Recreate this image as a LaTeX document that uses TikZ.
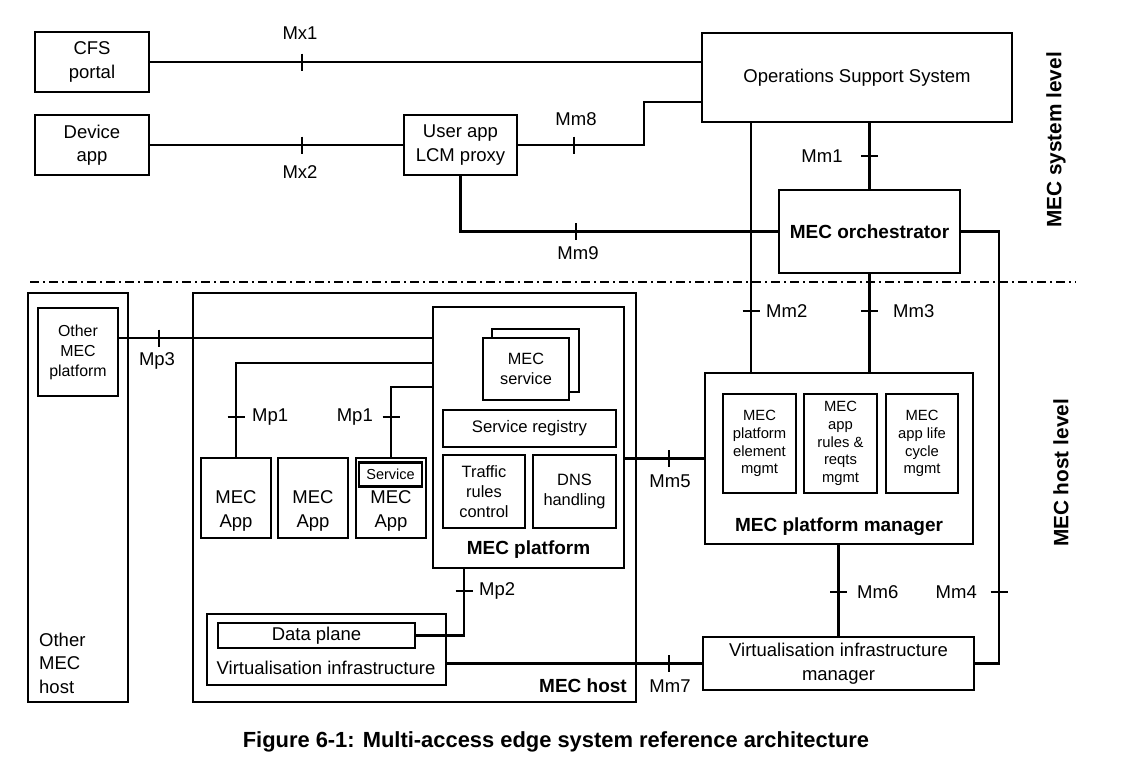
\documentclass[tikz,border=0pt]{standalone}
\usepackage{fontspec}
\setmainfont{Liberation Sans}
\newcommand\fsz[2]{\fontsize{#1}{#2}\selectfont}
\begin{document}
\begin{tikzpicture}[x=1pt,y=-1pt,
  box/.style={draw, line width=2.2pt, inner sep=0pt, align=center, font=\fsz{18.5}{23.5}},
  wire/.style={line width=2.2pt},
  tick/.style={line width=2.2pt},
  lab/.style={inner sep=0pt, align=center, font=\fsz{18.5}{23.5}},
  smalltxt/.style={font=\fsz{14.8}{17.8}},
  midtxt/.style={font=\fsz{16.4}{19.8}},
  head/.style={inner sep=0pt, font=\bfseries\fsz{19}{23}},
  side/.style={inner sep=0pt, font=\bfseries\fsz{20.8}{25}, rotate=90},
  levelline/.style={line width=1.6pt, dash pattern=on 9pt off 4pt on 2pt off 4pt},
]
\useasboundingbox (0,0) rectangle (1123,772);

% ---------------- system level ----------------
\node[box, minimum width=114, minimum height=60] (cfs) at (92,62) {CFS\\portal};
\node[box, minimum width=114, minimum height=60] (dev) at (92,145) {Device\\app};
\node[box, minimum width=113, minimum height=60] (proxy) at (460.5,145) {User app\\LCM proxy};
\node[box, minimum width=310, minimum height=89] (oss) at (857,77.5) {Operations Support System};
\node[box, minimum width=181, minimum height=83, font=\bfseries\fsz{19}{23}] (orch) at (869.5,231.5) {MEC orchestrator};

\node[side] (syslevel) at (1056,140) {MEC system level};

% level separator
\coordinate (sepl) at (30,282);
\coordinate (sepr) at (1076,282);
\draw[levelline] (sepl) -- (sepr);

% ---------------- host level ----------------
\node[box, minimum width=100, minimum height=409] (omh) at (78,497.5) {};
\node[lab, align=left, anchor=west] (omht) at (39,663) {Other\\MEC\\host};
\node[box, minimum width=80, minimum height=88, font=\fsz{15.9}{20}] (omp) at (78,352) {Other\\MEC\\platform};

\node[box, minimum width=443, minimum height=409] (host) at (414.5,497.5) {};
\node[head, anchor=east] (hostt) at (627,686) {MEC host};

\node[box, minimum width=191, minimum height=261] (plat) at (528.5,437.5) {};
\node[head] (platt) at (528.5,550) {MEC platform};
\node[box, minimum width=87, minimum height=63] (svcback) at (535.5,360.5) {};
\node[box, minimum width=86, minimum height=62, fill=white, font=\fsz{16.3}{20}] (svc) at (526,369) {MEC\\service};
\node[box, minimum width=173, minimum height=37, font=\fsz{16.7}{20}] (reg) at (529.5,428.5) {Service registry};
\node[box, minimum width=82, minimum height=73, midtxt] (traffic) at (484,491.5) {Traffic\\rules\\control};
\node[box, minimum width=83, minimum height=73, midtxt] (dns) at (574.5,491.5) {DNS\\handling};

\node[box, minimum width=70, minimum height=80] (app1) at (236,498) {};
\node[box, minimum width=70, minimum height=80] (app2) at (313,498) {};
\node[box, minimum width=70, minimum height=80] (app3) at (391,498) {};
\node[lab, font=\fsz{18.5}{24}] (app1t) at (236,511) {MEC\\App};
\node[lab, font=\fsz{18.5}{24}] (app2t) at (313,511) {MEC\\App};
\node[lab, font=\fsz{18.5}{24}] (app3t) at (391,511) {MEC\\App};
\node[box, minimum width=63, minimum height=24, font=\fsz{14.5}{17}] (svcin) at (390.5,474.5) {Service};

\node[box, minimum width=239, minimum height=71] (vi) at (326.5,649.5) {};
\node[box, minimum width=197, minimum height=25] (dp) at (316.5,635.5) {Data plane};
\node[lab] (vit) at (326,668) {Virtualisation infrastructure};

\node[box, minimum width=268, minimum height=171] (pm) at (839,458.5) {};
\node[head] (pmt) at (839,527) {MEC platform manager};
\node[box, minimum width=73, minimum height=99, smalltxt] (pm1) at (759.5,443.5) {MEC\\platform\\element\\mgmt};
\node[box, minimum width=73, minimum height=99, smalltxt] (pm2) at (840.5,443.5) {MEC\\app\\rules \&\\reqts\\mgmt};
\node[box, minimum width=72, minimum height=99, smalltxt] (pm3) at (922,443.5) {MEC\\app life\\cycle\\mgmt};

\node[box, minimum width=271, minimum height=53] (vim) at (838.5,663.5) {Virtualisation infrastructure\\manager};

\node[side] (hostlevel) at (1061,473) {MEC host level};

% ---------------- reference points ----------------
\coordinate (m8bend) at (644,102);
\coordinate (m2x) at (751,300);
\coordinate (m4x) at (999,400);
\coordinate (mp3y) at (0,338);
\coordinate (mp1ay) at (0,363);
\coordinate (mp1by) at (0,387);
\coordinate (mp2x) at (464,600);

% ---------------- connectors ----------------
\draw[wire] (cfs.east) -- (cfs.east -| oss.west);
\draw[wire] (dev.east) -- (proxy.west);
\draw[wire] (proxy.east) -| (m8bend) -- (m8bend -| oss.west);
\draw[wire] (proxy.south) |- (orch.west);
\draw[wire] (orch.north) -- (orch.north |- oss.south);
\draw[wire] (oss.south -| m2x) -- (pm.north -| m2x);
\draw[wire] (orch.south) -- (orch.south |- pm.north);
\draw[wire] (orch.east) -| (m4x) |- (vim.east);
\draw[wire] (pm.west -| plat.east) -- (pm.west);
\draw[wire] (pm.south -| vim.north) -- (vim.north);
\draw[wire] (vim.west) -- (vim.west -| vi.east);
\draw[wire] (omp.east |- mp3y) -- (plat.west |- mp3y);
\draw[wire] (app1.north) |- (plat.west |- mp1ay);
\draw[wire] (app3.north) |- (plat.west |- mp1by);
\draw[wire] (plat.south -| mp2x) |- (dp.east);

% ---------------- reference point ticks ----------------
\coordinate (tmx1) at (302,62);
\coordinate (tmx2) at (302,145);
\coordinate (tmm8) at (574,145);
\coordinate (tmm9) at (576,231.5);
\coordinate (tmm5) at (669,458.5);
\coordinate (tmm7) at (669,663.5);
\coordinate (tmp3) at (159,338);
\coordinate (tmm1) at (869.5,156);
\coordinate (tmm2) at (751,311);
\coordinate (tmm3) at (869.5,311);
\coordinate (tmm4) at (999,592);
\coordinate (tmm6) at (838.5,592);
\coordinate (tmp1a) at (236,417);
\coordinate (tmp1b) at (391,417);
\coordinate (tmp2) at (464,591);

\foreach \t in {tmx1,tmx2,tmm8,tmm9,tmm5,tmm7,tmp3}
  \draw[tick] (\t) ++(0,-8.5) -- ++(0,17);
\foreach \t in {tmm1,tmm2,tmm3,tmm4,tmm6,tmp1a,tmp1b,tmp2}
  \draw[tick] (\t) ++(-8.5,0) -- ++(17,0);

% ---------------- reference point labels ----------------
\node[lab] (lmx1) at (300,33) {Mx1};
\node[lab] (lmx2) at (300,172) {Mx2};
\node[lab] (lmm8) at (576,119) {Mm8};
\node[lab] (lmm9) at (578,253) {Mm9};
\node[lab] (lmm1) at (822,156) {Mm1};
\node[lab, anchor=west] (lmm2) at (766,311) {Mm2};
\node[lab, anchor=west] (lmm3) at (893,311) {Mm3};
\node[lab] (lmm5) at (670,481) {Mm5};
\node[lab, anchor=west] (lmm6) at (857,592) {Mm6};
\node[lab, anchor=east] (lmm4) at (977,592) {Mm4};
\node[lab] (lmm7) at (670,686) {Mm7};
\node[lab] (lmp3) at (157,361) {Mp3};
\node[lab, anchor=west] (lmp1a) at (252,417) {Mp1};
\node[lab, anchor=east] (lmp1b) at (373,417) {Mp1};
\node[lab, anchor=west] (lmp2) at (479,591) {Mp2};

% ---------------- caption ----------------
\node[inner sep=0pt, font=\bfseries\fsz{21.9}{26}] (caption) at (556,742) {Figure 6-1: Multi-access edge system reference architecture};
\end{tikzpicture}
\end{document}
